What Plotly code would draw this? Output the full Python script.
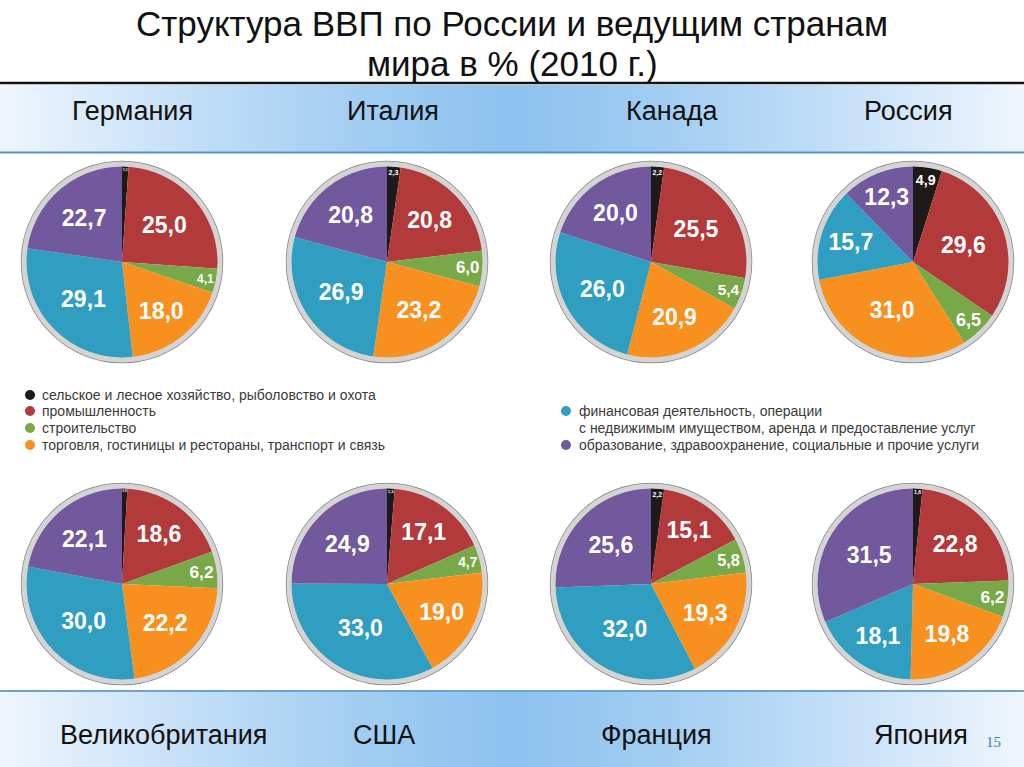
import plotly.graph_objects as go

W, H = 1024, 767

sectors = [
    "сельское и лесное хозяйство, рыболовство и охота",
    "промышленность",
    "строительство",
    "торговля, гостиницы и рестораны, транспорт и связь",
    "финансовая деятельность, операции с недвижимым имуществом, аренда и предоставление услуг",
    "образование, здравоохранение, социальные и прочие услуги",
]
colors = ["#1e1a1a", "#b23a3b", "#78a848", "#f8901f", "#2f9ec0", "#72589d"]

countries = ["Германия", "Италия", "Канада", "Россия",
             "Великобритания", "США", "Франция", "Япония"]

germany = [1.1, 25.0, 4.1, 18.0, 29.1, 22.7]
italy = [2.3, 20.8, 6.0, 23.2, 26.9, 20.8]
canada = [2.2, 25.5, 5.4, 20.9, 26.0, 20.0]
russia = [4.9, 29.6, 6.5, 31.0, 15.7, 12.3]
uk = [0.9, 18.6, 6.2, 22.2, 30.0, 22.1]
usa = [1.3, 17.1, 4.7, 19.0, 33.0, 24.9]
france = [2.2, 15.1, 5.8, 19.3, 32.0, 25.6]
japan = [1.6, 22.8, 6.2, 19.8, 18.1, 31.5]
values = [germany, italy, canada, russia, uk, usa, france, japan]

title_lines = ["Структура ВВП по России и ведущим странам", "мира в % (2010 г.)"]

# ---- layout geometry (pixels) ----
col_x = [122, 387, 651, 913]
row_y = [262, 584]
R = 96
name_x_top = [132, 393, 672, 908]
name_x_bot = [163, 384, 656, 921]


def px(x):
    return x / W


def py(y):
    return 1 - y / H


fig = go.Figure()
for i, (name, vals) in enumerate(zip(countries, values)):
    cx = col_x[i % 4]
    cy = row_y[i // 4]
    fig.add_trace(go.Pie(
        labels=sectors, values=vals, name=name,
        sort=False, direction="clockwise", rotation=0,
        marker=dict(colors=colors, line=dict(width=0)),
        texttemplate="%{value:.1f}", textposition="inside",
        insidetextorientation="horizontal",
        textfont=dict(color="white", size=23, family="Liberation Sans", weight="bold"),
        domain=dict(x=[px(cx - R), px(cx + R)], y=[py(cy + R), py(cy - R)]),
        showlegend=False, hoverinfo="label+value",
    ))

shapes = []


def lerp(c1, c2, t):
    return "rgb(%d,%d,%d)" % tuple(round(a + (b - a) * t) for a, b in zip(c1, c2))


center_c = (142, 195, 239)
edge_c = (240, 246, 253)
N = 128
for (y0, y1) in [(85, 152), (692, 767)]:
    for k in range(N):
        x0 = k * W / N
        x1 = (k + 1) * W / N
        xm = (x0 + x1) / 2
        t = min(1.0, abs(xm - W / 2) / (W / 2))
        t = t ** 1.3
        shapes.append(dict(type="rect", xref="paper", yref="paper",
                           x0=px(x0), x1=px(x1) + 0.001, y0=py(y1), y1=py(y0),
                           fillcolor=lerp(center_c, edge_c, t), line=dict(width=0),
                           layer="below"))

# rules
shapes.append(dict(type="line", xref="paper", yref="paper", x0=0, x1=1,
                   y0=py(83), y1=py(83), line=dict(color="#111111", width=2.5)))
shapes.append(dict(type="line", xref="paper", yref="paper", x0=0, x1=1,
                   y0=py(152.5), y1=py(152.5), line=dict(color="#5a93c0", width=2)))
shapes.append(dict(type="line", xref="paper", yref="paper", x0=0, x1=1,
                   y0=py(691), y1=py(691), line=dict(color="#6aa3cc", width=2)))

# pie rims
for i in range(8):
    cx = col_x[i % 4]
    cy = row_y[i // 4]
    for rr, w, c in [(R + 4.5, 1.5, "#858585"), (R + 2, 5, "#d4d4d4")]:
        shapes.append(dict(type="circle", xref="paper", yref="paper",
                           x0=px(cx - rr), x1=px(cx + rr), y0=py(cy + rr), y1=py(cy - rr),
                           line=dict(color=c, width=w), layer="above"))

annotations = []
# title
for j, (t, y) in enumerate(zip(title_lines, [24, 63])):
    annotations.append(dict(text=t, x=0.5, y=py(y), xref="paper", yref="paper",
                            showarrow=False, xanchor="center", yanchor="middle",
                            font=dict(family="Liberation Sans", size=35, color="#111111")))
# country names
for i, name in enumerate(countries):
    if i < 4:
        x, y = name_x_top[i], 111
    else:
        x, y = name_x_bot[i - 4], 735
    annotations.append(dict(text=name, x=px(x), y=py(y), xref="paper", yref="paper",
                            showarrow=False, xanchor="center", yanchor="middle",
                            font=dict(family="Liberation Sans", size=27, color="#111111")))

# legend
leg_items = [
    (30, 40, 395, sectors[0], colors[0]),
    (30, 40, 411, sectors[1], colors[1]),
    (30, 40, 428, sectors[2], colors[2]),
    (30, 40, 445, sectors[3], colors[3]),
    (566, 577, 411, "финансовая деятельность, операции", colors[4]),
    (None, 577, 428, "с недвижимым имуществом, аренда и предоставление услуг", None),
    (566, 577, 445, sectors[5], colors[5]),
]
for mx, tx, y, txt, c in leg_items:
    if mx is not None:
        shapes.append(dict(type="circle", xref="paper", yref="paper",
                           x0=px(mx - 5), x1=px(mx + 5), y0=py(y + 5), y1=py(y - 5),
                           fillcolor=c, line=dict(width=0)))
    annotations.append(dict(text=txt, x=px(tx), y=py(y), xref="paper", yref="paper",
                            showarrow=False, xanchor="left", yanchor="middle",
                            font=dict(family="Liberation Sans", size=14, color="#3a3a3a")))

annotations.append(dict(text="15", x=px(993), y=py(742), xref="paper", yref="paper",
                        showarrow=False, xanchor="center", yanchor="middle",
                        font=dict(family="Liberation Serif", size=15, color="#3a7ea6")))

fig.update_layout(width=W, height=H, margin=dict(l=0, r=0, t=0, b=0),
                  paper_bgcolor="white", plot_bgcolor="white",
                  separators=", ", shapes=shapes, annotations=annotations,
                  showlegend=False)

fig.write_html("out.html", config={"displayModeBar": False},
               post_script="document.body.style.margin='0';document.body.style.overflow='hidden';")
